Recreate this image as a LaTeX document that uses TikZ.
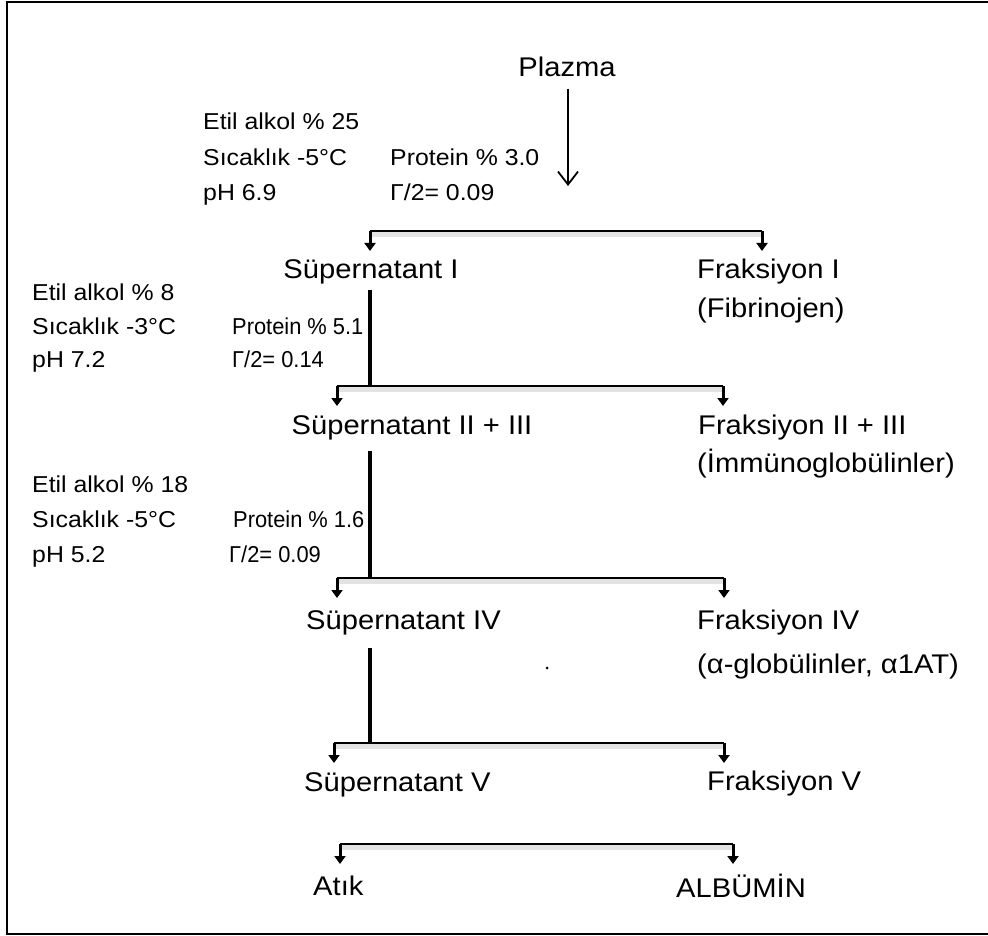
\documentclass[tikz,border=0pt]{standalone}
\usepackage{fontspec}
\setmainfont{Liberation Sans}[FakeStretch=1.08]
\newfontfamily\narrowsans{Liberation Sans}[FakeStretch=0.95]
\usetikzlibrary{arrows.meta}
\tikzset{
  lbl/.style={inner sep=0pt, anchor=west, font=\fontsize{27}{31}\selectfont, text height=19pt, text depth=6pt},
  lblc/.style={lbl, anchor=center},
  cond/.style={inner sep=0pt, anchor=west, font=\fontsize{23}{27}\selectfont, text height=16pt, text depth=5pt},
  condn/.style={cond, font=\narrowsans\fontsize{23}{27}\selectfont},
  brk/.style={line width=1.8pt},
  brkshade/.style={fill=gray!22},
  down/.style={line width=3pt, -{Triangle[width=11pt,length=8pt]}},
  trunk/.style={line width=3.5pt},
}
\begin{document}
\begin{tikzpicture}[x=1pt,y=-1pt]
\useasboundingbox (0,0) rectangle (988,936);
% frame (right side outside the picture)
\draw[line width=2.2pt] (992,2) -- (7,2) -- (7,934) -- (992,934);

% top
\node[lblc] (plazma) at (567,70) {Plazma};
\coordinate (pz) at (568,186);
\draw[line width=1.8pt, -{Straight Barb[length=13pt,width=20pt,line width=1.8pt]}] (plazma.south -| pz) ++(0,6) -- (pz);

\node[cond] (c1a) at (203,124) {Etil alkol \% 25};
\node[cond] (c1b) at (203,160) {Sıcaklık -5°C};
\node[cond] (c1c) at (203,195) {pH 6.9};
\node[cond] (c1d) at (390,160) {Protein \% 3.0};
\node[cond] (c1e) at (390,195) {Γ/2= 0.09};

% bracket 1
\coordinate (b1l) at (370,231);
\coordinate (b1r) at (762,231);
\fill[brkshade] (b1l) rectangle ([yshift=-6pt]b1r);
\draw[brk] (b1l) -- (b1r);
\coordinate (b1la) at (370,251);
\coordinate (b1ra) at (762,251);
\draw[down] (b1l) -- (b1la);
\draw[down] (b1r) -- (b1ra);

\node[lblc] (s1) at (371,272) {Süpernatant I};
\node[lbl] (f1) at (697,272) {Fraksiyon I};
\node[lbl] (f1b) at (697,311) {(Fibrinojen)};

% block 2
\node[cond] (c2a) at (32,295) {Etil alkol \% 8};
\node[cond] (c2b) at (32,329) {Sıcaklık -3°C};
\node[cond] (c2c) at (32,362) {pH 7.2};
\node[condn] (c2d) at (232,329) {Protein \% 5.1};
\node[condn] (c2e) at (232,362) {Γ/2= 0.14};

\coordinate (b2l) at (337,386);
\coordinate (b2m) at (370,386);
\coordinate (b2r) at (723,386);
\draw[trunk] (s1.south -| b2m) ++(0,5) -- (b2m);
\fill[brkshade] (b2l) rectangle ([yshift=-6pt]b2r);
\draw[brk] (b2l) -- (b2r);
\coordinate (b2la) at (337,406);
\coordinate (b2ra) at (723,406);
\draw[down] (b2l) -- (b2la);
\draw[down] (b2r) -- (b2ra);

\node[lblc] (s2) at (412,428) {Süpernatant II + III};
\node[lbl] (f2) at (698,428) {Fraksiyon II + III};
\node[lbl] (f2b) at (697,466) {(İmmünoglobülinler)};

% block 3
\node[cond] (c3a) at (32,487) {Etil alkol \% 18};
\node[cond] (c3b) at (32,522) {Sıcaklık -5°C};
\node[cond] (c3c) at (32,557) {pH 5.2};
\node[condn] (c3d) at (233,522) {Protein \% 1.6};
\node[condn] (c3e) at (229,557) {Γ/2= 0.09};

\coordinate (b3l) at (337,578);
\coordinate (b3m) at (370,578);
\coordinate (b3r) at (724,578);
\draw[trunk] (s2.south -| b3m) ++(0,10) -- (b3m);
\fill[brkshade] (b3l) rectangle ([yshift=-6pt]b3r);
\draw[brk] (b3l) -- (b3r);
\coordinate (b3la) at (337,598);
\coordinate (b3ra) at (724,598);
\draw[down] (b3l) -- (b3la);
\draw[down] (b3r) -- (b3ra);

\node[lbl] (s4) at (306,623) {Süpernatant IV};
\node[lbl] (f4) at (697,623) {Fraksiyon IV};
\node[lbl] (f4b) at (697,667) {(α-globülinler, α1AT)};
\fill (547,668) circle (1.5pt);

\coordinate (b4l) at (334,743);
\coordinate (b4m) at (370,743);
\coordinate (b4r) at (724,743);
\draw[trunk] (s4.south -| b4m) ++(0,12) -- (b4m);
\fill[brkshade] (b4l) rectangle ([yshift=-6pt]b4r);
\draw[brk] (b4l) -- (b4r);
\coordinate (b4la) at (334,763);
\coordinate (b4ra) at (724,763);
\draw[down] (b4l) -- (b4la);
\draw[down] (b4r) -- (b4ra);

\node[lbl] (s5) at (304,785) {Süpernatant V};
\node[lbl] (f5) at (707,784) {Fraksiyon V};

\coordinate (b5l) at (340,844);
\coordinate (b5r) at (733,844);
\fill[brkshade] (b5l) rectangle ([yshift=-6pt]b5r);
\draw[brk] (b5l) -- (b5r);
\coordinate (b5la) at (340,864);
\coordinate (b5ra) at (733,864);
\draw[down] (b5l) -- (b5la);
\draw[down] (b5r) -- (b5ra);

\node[lbl] (atik) at (313,889) {Atık};
\node[lbl] (alb) at (676,891) {ALBÜMİN};
\end{tikzpicture}
\end{document}
